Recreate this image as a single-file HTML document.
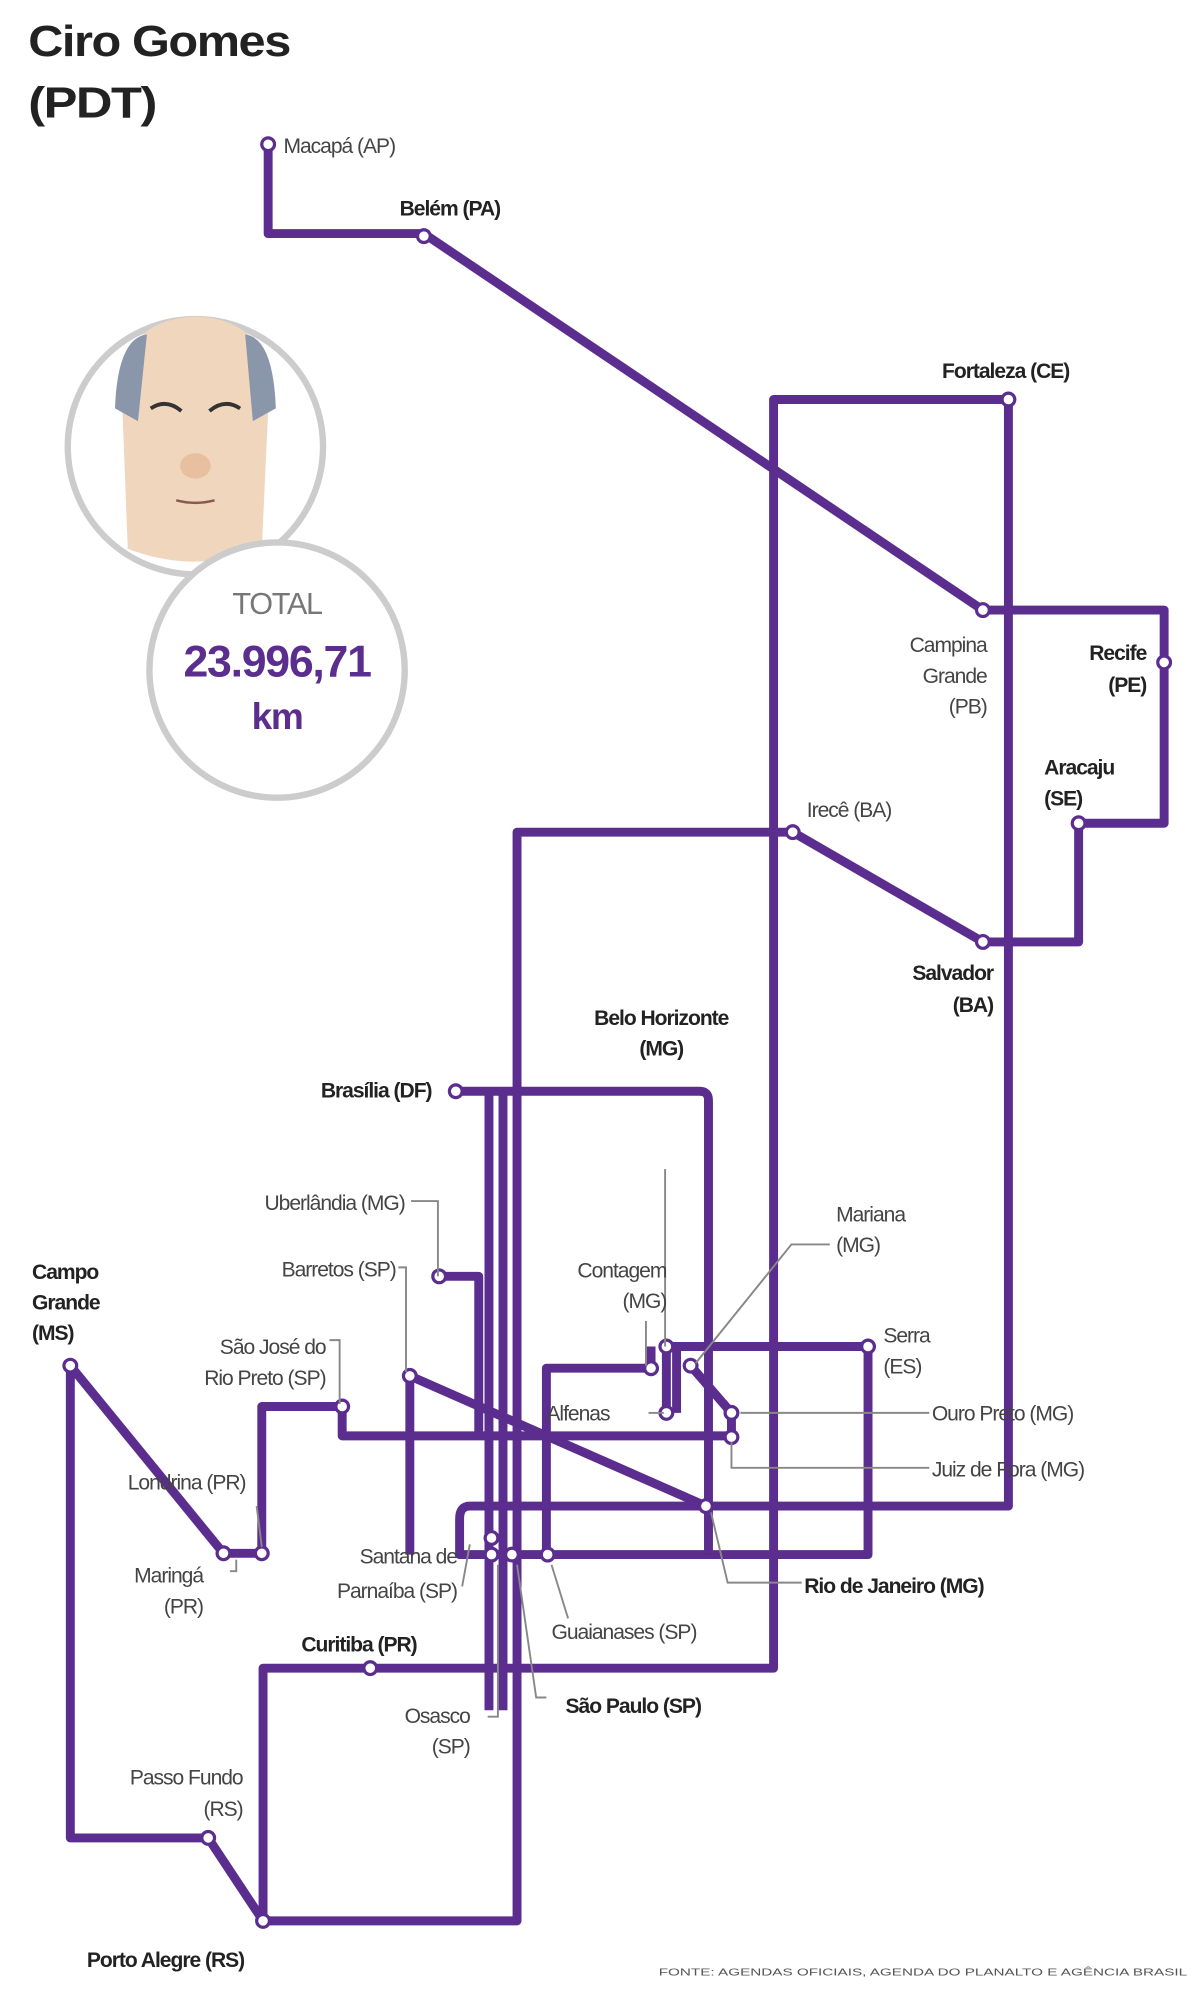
<!DOCTYPE html>
<html><head><meta charset="utf-8"><style>
html,body{margin:0;padding:0;background:#fff;width:1200px;height:2000px;overflow:hidden}
svg{display:block}
text{font-family:"Liberation Sans",sans-serif;fill:#444;font-size:16.5px;letter-spacing:-0.8px}
.b{font-weight:bold;fill:#222}
</style></head><body>
<svg width="1200" height="2000" viewBox="0 0 940 1567" xmlns="http://www.w3.org/2000/svg">
<text x="22" y="44" textLength="205" lengthAdjust="spacingAndGlyphs" style="font-size:34px;fill:#222;font-weight:bold;letter-spacing:-1px">Ciro Gomes</text>
<text x="22" y="92" textLength="100" lengthAdjust="spacingAndGlyphs" style="font-size:34px;fill:#222;font-weight:bold;letter-spacing:-1px">(PDT)</text>

<!-- portrait -->
<circle cx="153" cy="350" r="100" fill="#fff" stroke="#ccc" stroke-width="5"/>
<path d="M95 300 Q100 250 153 248 Q206 250 211 300 L205 430 Q153 450 100 430 Z" fill="#f0d6bd"/>
<path d="M90 320 Q92 265 115 262 L108 330 Z M216 320 Q214 265 192 262 L198 330 Z" fill="#8a97ab"/>
<path d="M118 320 Q130 312 142 322 M164 322 Q176 312 188 320" stroke="#333" stroke-width="3" fill="none"/>
<ellipse cx="153" cy="365" rx="12" ry="10" fill="#e8c0a0"/>
<path d="M138 392 Q153 396 168 392" stroke="#8a5a4a" stroke-width="2" fill="none"/>
<circle cx="217" cy="525" r="100" fill="#fff" stroke="#ccc" stroke-width="5"/>
<text x="217" y="481" text-anchor="middle" style="font-size:24px;fill:#777;letter-spacing:-1px">TOTAL</text>
<text x="217" y="530" text-anchor="middle" style="font-size:35px;font-weight:bold;fill:#5b2d8e;letter-spacing:-1px">23.996,71</text>
<text x="217" y="571" text-anchor="middle" style="font-size:29px;font-weight:bold;fill:#5b2d8e;letter-spacing:-1px">km</text>

<g fill="none" stroke="#5b2d8e" stroke-width="7" stroke-linejoin="round">
<path d="M210 113 V183 H332 L770 478 H912 V645 H845 V738 H770 L621 652 H405 V1505 H206 V1307 H606 V313 H790 V1180 H368 Q360 1180 360 1190 V1218 H680 V1055 H522 V1107"/>
<path d="M55 1070 V1440 H163 L206 1505"/>
<path d="M55 1070 L175 1217 H205 V1102 H268 V1125 H573"/>
<path d="M357 855 H548 Q555 855 555 862 V1218"/>
<path d="M344 1000 H375 V1125"/>
<path d="M321 1078 L553 1180"/>
<path d="M321 1078 V1218"/>
<path d="M383 855 V1340"/>
<path d="M394 855 V1340"/>
<path d="M428 1218 V1072 H510 V1055"/>
<path d="M530 1055 V1107"/>
<path d="M541 1070 L573 1107 V1126"/>
</g>
<g fill="#fff" stroke="#5b2d8e" stroke-width="2.5">
<circle cx="210" cy="113" r="5"/><circle cx="332" cy="185" r="5"/><circle cx="790" cy="313" r="5"/>
<circle cx="770" cy="478" r="5"/><circle cx="912" cy="519" r="5"/><circle cx="845" cy="645" r="5"/>
<circle cx="621" cy="652" r="5"/><circle cx="770" cy="738" r="5"/><circle cx="357" cy="855" r="5"/>
<circle cx="344" cy="1000" r="5"/><circle cx="321" cy="1078" r="5"/><circle cx="268" cy="1102" r="5"/>
<circle cx="55" cy="1070" r="5"/><circle cx="175" cy="1217" r="5"/><circle cx="205" cy="1217" r="5"/>
<circle cx="510" cy="1072" r="5"/><circle cx="522" cy="1055" r="5"/><circle cx="541" cy="1070" r="5"/>
<circle cx="522" cy="1107" r="5"/><circle cx="680" cy="1055" r="5"/><circle cx="573" cy="1107" r="5"/>
<circle cx="573" cy="1126" r="5"/><circle cx="553" cy="1180" r="5"/><circle cx="385" cy="1205" r="5"/>
<circle cx="385" cy="1218" r="5"/><circle cx="401" cy="1218" r="5"/><circle cx="429" cy="1218" r="5"/>
<circle cx="290" cy="1307" r="5"/><circle cx="163" cy="1440" r="5"/><circle cx="206" cy="1505" r="5"/>
</g>
<g fill="none" stroke="#888" stroke-width="1.5">
<path d="M322 941 H343 V1000"/><path d="M312 993 H318 V1075"/><path d="M258 1050 H266 V1100"/>
<path d="M180 1231 H185 V1222"/><path d="M201 1180 L205 1212"/>
<path d="M521 916 V1055"/><path d="M506 1035 V1070"/><path d="M650 975 H620 L545 1068"/>
<path d="M508 1107 H520"/><path d="M580 1107 H728"/><path d="M573 1130 V1150 H728"/>
<path d="M557 1185 L570 1240 H628"/><path d="M362 1243 L368 1210"/><path d="M390 1226 V1345 H382"/>
<path d="M405 1226 L420 1330 H428"/><path d="M432 1226 L445 1268"/>
</g>
<text x="222" y="120">Macapá (AP)</text>
<text x="313" y="169" class="b">Belém (PA)</text>
<text x="738" y="296" class="b">Fortaleza (CE)</text>
<text x="773" y="511" text-anchor="end">Campina</text>
<text x="773" y="535" text-anchor="end">Grande</text>
<text x="773" y="559" text-anchor="end">(PB)</text>
<text x="898" y="517" class="b" text-anchor="end">Recife</text>
<text x="898" y="542" class="b" text-anchor="end">(PE)</text>
<text x="818" y="607" class="b">Aracaju</text>
<text x="818" y="631" class="b">(SE)</text>
<text x="632" y="640">Irecê (BA)</text>
<text x="778" y="768" class="b" text-anchor="end">Salvador</text>
<text x="778" y="793" class="b" text-anchor="end">(BA)</text>
<text x="518" y="803" class="b" text-anchor="middle">Belo Horizonte</text>
<text x="518" y="827" class="b" text-anchor="middle">(MG)</text>
<text x="338" y="860" class="b" text-anchor="end">Brasília (DF)</text>
<text x="317" y="948" text-anchor="end">Uberlândia (MG)</text>
<text x="310" y="1000" text-anchor="end">Barretos (SP)</text>
<text x="25" y="1002" class="b">Campo</text>
<text x="25" y="1026" class="b">Grande</text>
<text x="25" y="1050" class="b">(MS)</text>
<text x="255" y="1061" text-anchor="end">São José do</text>
<text x="255" y="1085" text-anchor="end">Rio Preto (SP)</text>
<text x="522" y="1001" text-anchor="end">Contagem</text>
<text x="522" y="1025" text-anchor="end">(MG)</text>
<text x="655" y="957">Mariana</text>
<text x="655" y="981">(MG)</text>
<text x="692" y="1052">Serra</text>
<text x="692" y="1076">(ES)</text>
<text x="428" y="1113">Alfenas</text>
<text x="730" y="1113">Ouro Preto (MG)</text>
<text x="730" y="1157">Juiz de Fora (MG)</text>
<text x="100" y="1167">Londrina (PR)</text>
<text x="159" y="1240" text-anchor="end">Maringá</text>
<text x="159" y="1264" text-anchor="end">(PR)</text>
<text x="358" y="1225" text-anchor="end">Santana de</text>
<text x="358" y="1252" text-anchor="end">Parnaíba (SP)</text>
<text x="630" y="1248" class="b">Rio de Janeiro (MG)</text>
<text x="432" y="1284">Guaianases (SP)</text>
<text x="236" y="1294" class="b">Curitiba (PR)</text>
<text x="368" y="1350" text-anchor="end">Osasco</text>
<text x="368" y="1374" text-anchor="end">(SP)</text>
<text x="443" y="1342" class="b">São Paulo (SP)</text>
<text x="190" y="1398" text-anchor="end">Passo Fundo</text>
<text x="190" y="1423" text-anchor="end">(RS)</text>
<text x="68" y="1541" class="b">Porto Alegre (RS)</text>
<text x="516" y="1548" textLength="414" lengthAdjust="spacingAndGlyphs" style="font-size:8px;fill:#555;letter-spacing:0">FONTE: AGENDAS OFICIAIS, AGENDA DO PLANALTO E AGÊNCIA BRASIL</text>
</svg>
</body></html>
